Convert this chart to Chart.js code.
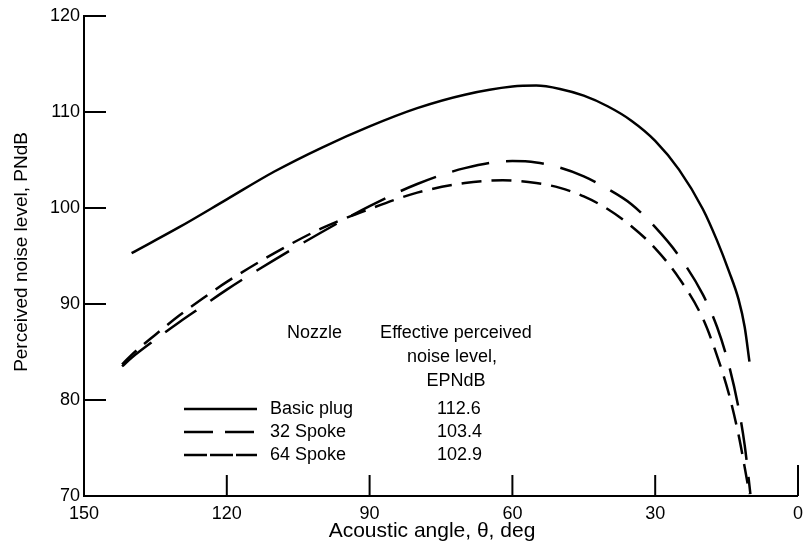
<!DOCTYPE html>
<html>
<head>
<meta charset="utf-8">
<script src="https://cdn.jsdelivr.net/npm/chart.js@4/dist/chart.umd.min.js"></script>
<style>
html,body{margin:0;padding:0;background:#fff;}
#wrap{width:810px;height:552px;position:relative;}
</style>
</head>
<body>
<div id="wrap"><canvas id="c" width="810" height="552"></canvas></div>
<script>
// acoustic angle (deg) / perceived noise level (PNdB)
const angleBasic = [140, 130, 120, 110, 100, 90, 80, 70, 60, 55, 50, 45, 40, 35, 30, 25, 20, 17, 14.5, 12.5, 11.2, 10.2];
const noiseBasic = [95.3, 98.0, 100.9, 103.8, 106.3, 108.5, 110.4, 111.8, 112.65, 112.75, 112.4, 111.7, 110.6, 109.1, 107.0, 104.0, 99.9, 96.6, 93.4, 90.5, 87.6, 84.0];
const angle32 = [142, 140, 135, 130, 125, 120, 110, 100, 90, 80, 70, 60, 55, 50, 45, 40, 35, 30, 25, 20, 17, 14.5, 12.5, 11.2, 10];
const noise32 = [83.5, 84.4, 86.3, 88.1, 89.8, 91.5, 94.6, 97.5, 100.2, 102.5, 104.15, 104.9, 104.75, 104.2, 103.3, 102.0, 100.4, 98.0, 95.0, 91.0, 87.6, 83.6, 79.2, 75.3, 70.2];
const angle64 = [142, 140, 135, 130, 125, 120, 110, 100, 90, 80, 70, 62, 55, 50, 45, 40, 35, 30, 25, 20, 17, 14.5, 12.5, 11.2, 10.2];
const noise64 = [83.7, 84.7, 86.8, 88.8, 90.6, 92.3, 95.3, 97.9, 99.9, 101.6, 102.6, 102.9, 102.6, 102.1, 101.2, 99.9, 98.1, 95.8, 92.7, 88.5, 84.6, 80.6, 76.4, 73.0, 70.2];

const xTicks = [150, 120, 90, 60, 30, 0];
const yTicks = [70, 80, 90, 100, 110, 120];
const nozzles = ['Basic plug', '32 Spoke', '64 Spoke'];
const epndb = ['112.6', '103.4', '102.9'];

const dashes = [[], [38, 17], [20, 10]];
const legendDashes = [[], [29, 12], [23, 3]];

const pts = (a, v) => a.map((d, i) => ({x: d, y: v[i]}));
const ds = (a, v, k) => ({
    label: nozzles[k], data: pts(a, v), borderColor: '#000', borderWidth: 2.5,
    borderDash: dashes[k], pointRadius: 0, fill: false, cubicInterpolationMode: 'monotone'
});

const textFont = '"Liberation Sans","DejaVu Sans",sans-serif';
const tickFont = {family: textFont, size: 18};

const extras = {
    id: 'extras',
    afterDraw(chart) {
        const ctx = chart.ctx, xs = chart.scales.x, ys = chart.scales.y;
        ctx.save();
        ctx.strokeStyle = '#000'; ctx.lineWidth = 2; ctx.setLineDash([]);
        // inward ticks
        yTicks.forEach(v => {
            if (v === 70) return;
            const p = ys.getPixelForValue(v);
            ctx.beginPath(); ctx.moveTo(xs.left, p); ctx.lineTo(xs.left + 22, p); ctx.stroke();
        });
        xTicks.forEach(v => {
            if (v === 150) return;
            const p = xs.getPixelForValue(v);
            ctx.beginPath(); ctx.moveTo(p, ys.bottom); ctx.lineTo(p, ys.bottom - (v === 0 ? 31 : 21)); ctx.stroke();
        });
        // axis titles
        ctx.fillStyle = '#000';
        ctx.font = '21px ' + textFont;
        ctx.textAlign = 'center'; ctx.textBaseline = 'middle';
        ctx.fillText('Acoustic angle, \u03B8, deg', 432, 531);
        ctx.font = '19px ' + textFont;
        ctx.save(); ctx.translate(22, 252); ctx.rotate(-Math.PI / 2);
        ctx.fillText('Perceived noise level, PNdB', 0, 0); ctx.restore();
        // legend table
        ctx.font = '18px ' + textFont;
        ctx.textAlign = 'left';
        ctx.fillText('Nozzle', 287, 333);
        ctx.textAlign = 'center';
        ctx.fillText('Effective perceived', 456, 333);
        ctx.fillText('noise level,', 452, 357);
        ctx.fillText('EPNdB', 456, 381);
        const rows = [409, 432, 455];
        rows.forEach((ry, k) => {
            ctx.setLineDash(legendDashes[k]); ctx.lineWidth = 2.5;
            ctx.beginPath(); ctx.moveTo(184, ry); ctx.lineTo(257, ry); ctx.stroke();
            ctx.setLineDash([]);
            ctx.textAlign = 'left';
            ctx.fillText(nozzles[k], 270, ry);
            ctx.fillText(epndb[k], 437, ry);
        });
        ctx.restore();
    }
};

new Chart(document.getElementById('c'), {
    type: 'line',
    data: {datasets: [ds(angleBasic, noiseBasic, 0), ds(angle32, noise32, 1), ds(angle64, noise64, 2)]},
    options: {
        responsive: false, animation: false,
        layout: {padding: {left: 0, right: 4, top: 16, bottom: 0}},
        plugins: {legend: {display: false}, tooltip: {enabled: false}},
        scales: {
            x: {
                type: 'linear', reverse: true, min: 0, max: 150,
                afterBuildTicks: s => { s.ticks = xTicks.map(v => ({value: v})); },
                afterFit: s => { s.height = 56; },
                grid: {display: false, drawTicks: false},
                border: {display: true, color: '#000', width: 2},
                ticks: {color: '#000', font: tickFont, padding: 7, maxRotation: 0}
            },
            y: {
                min: 70, max: 120,
                afterBuildTicks: s => { s.ticks = yTicks.map(v => ({value: v})); },
                afterFit: s => { s.width = 84; },
                grid: {display: false, drawTicks: false},
                border: {display: true, color: '#000', width: 2},
                ticks: {color: '#000', font: tickFont, padding: 4}
            }
        }
    },
    plugins: [extras]
});
</script>
</body>
</html>
